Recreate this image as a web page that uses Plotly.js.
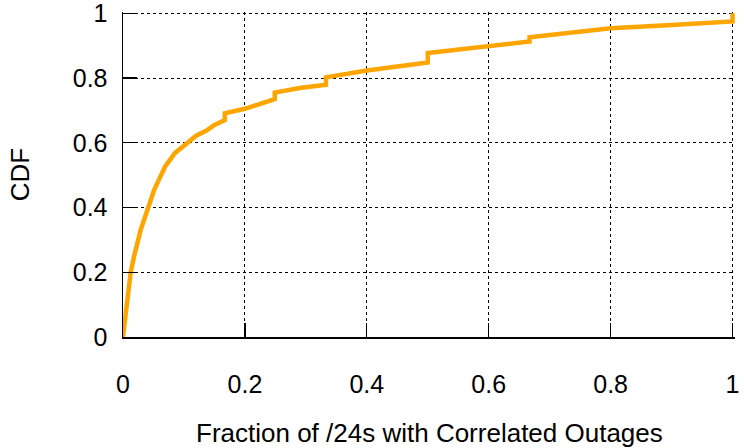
<!DOCTYPE html>
<html>
<head>
<meta charset="utf-8">
<script src="https://cdn.plot.ly/plotly-3.0.1.min.js"></script>
<style>html,body{margin:0;padding:0;background:#fff;}#chart{width:744px;height:448px;}</style>
</head>
<body>
<div id="chart"></div>
<script>
// Fraction of /24s with correlated outages (x) and cumulative fraction (y)
const fraction = [0, 0.004, 0.0126, 0.018, 0.029, 0.042, 0.051, 0.06, 0.069, 0.085, 0.096, 0.107, 0.12, 0.137, 0.150, 0.167, 0.167, 0.2, 0.249, 0.249, 0.29, 0.333, 0.333, 0.4, 0.5, 0.5, 0.6, 0.667, 0.667, 0.75, 0.8, 0.9, 1.0, 1.0];
const cdf      = [0, 0.073, 0.2, 0.248, 0.331, 0.403, 0.454, 0.49, 0.526, 0.568, 0.585, 0.6, 0.622, 0.638, 0.655, 0.67, 0.691, 0.705, 0.735, 0.755, 0.769, 0.779, 0.802, 0.823, 0.848, 0.877, 0.897, 0.913, 0.926, 0.943, 0.954, 0.964, 0.975, 1.0];
const tickVals = [0, 0.2, 0.4, 0.6, 0.8, 1];
const tickText = ['0', '0.2', '0.4', '0.6', '0.8', '1'];
const xTitle = 'Fraction of /24s with Correlated Outages';
const yTitle = 'CDF';

const font = {family: 'Liberation Sans, Arial, sans-serif', size: 26, color: '#000'};
const tickFont = {family: 'Liberation Sans, Arial, sans-serif', size: 25, color: '#000'};

const trace = {
  x: fraction, y: cdf, type: 'scatter', mode: 'lines',
  line: {color: '#FFA500', width: 4.5, shape: 'linear'},
  hoverinfo: 'skip'
};

const axisCommon = {
  range: [0, 1.004], tickvals: tickVals, ticktext: tickText,
  showgrid: true, gridcolor: '#000', griddash: 'dot', gridwidth: 1,
  zeroline: false, showline: true, linecolor: '#000', linewidth: 1.5,
  ticks: 'inside', ticklen: 14, tickcolor: '#000', tickwidth: 1.2,
  tickfont: tickFont, ticklabeloverflow: 'allow',
  automargin: false, fixedrange: true
};

const layout = {
  width: 744, height: 448,
  margin: {l: 123, r: 8.6, t: 12.2, b: 111},
  paper_bgcolor: '#fff', plot_bgcolor: '#fff',
  showlegend: false,
  font: font,
  xaxis: Object.assign({}, axisCommon, {
    ticklabelstandoff: 24
  }),
  yaxis: Object.assign({}, axisCommon, {
    ticklabelstandoff: 9,
    title: {text: yTitle, font: font, standoff: 35}
  }),
  annotations: [{
    text: xTitle, font: font, showarrow: false,
    xref: 'paper', yref: 'paper', x: 0.5, y: 0,
    xanchor: 'center', yanchor: 'middle', yshift: -96
  }]
};

Plotly.newPlot('chart', [trace], layout, {staticPlot: true, displayModeBar: false});
</script>
</body>
</html>
